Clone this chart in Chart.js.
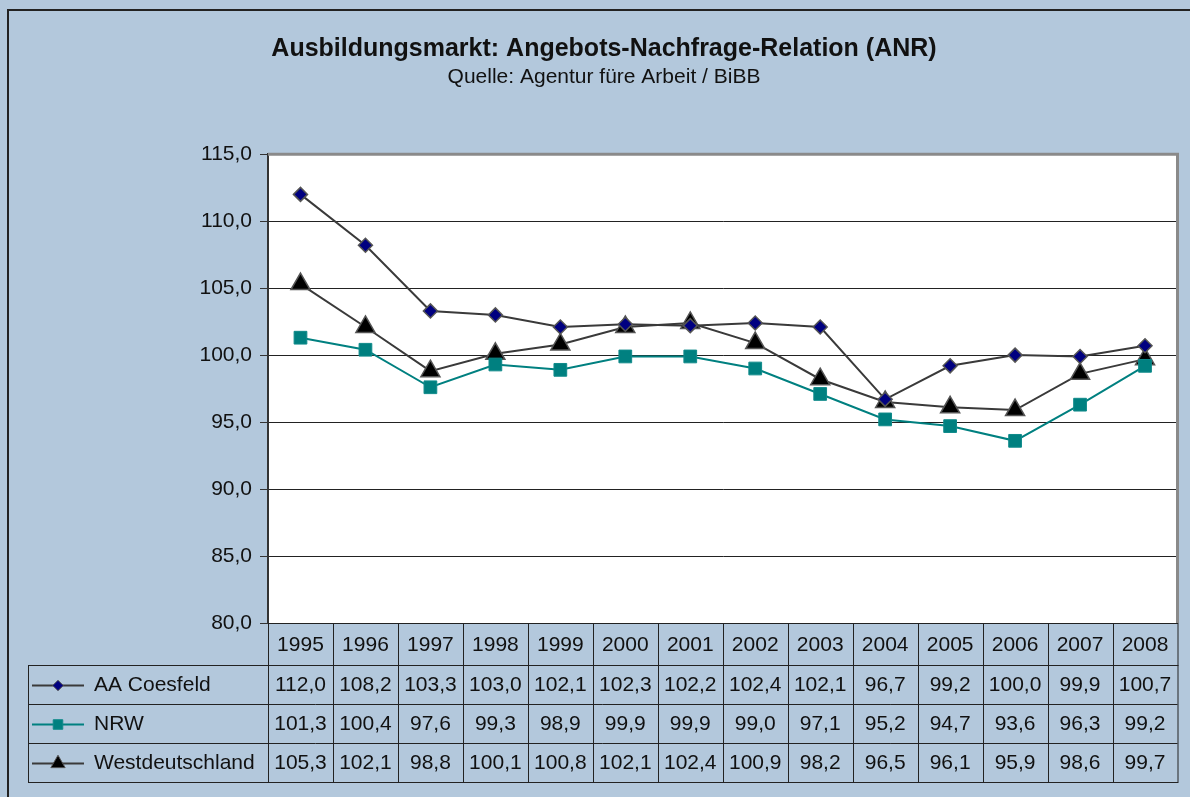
<!DOCTYPE html>
<html>
<head>
<meta charset="utf-8">
<script src="https://cdn.jsdelivr.net/npm/chart.js@4.4.1/dist/chart.umd.min.js"></script>
<style>
  html, body { margin: 0; padding: 0; background: #fff; }
  #wrap { width: 1190px; height: 797px; }
</style>
</head>
<body>
<div id="wrap"><canvas id="anrChart" width="1190" height="797"></canvas></div>
<script>
const years = ['1995', '1996', '1997', '1998', '1999', '2000', '2001', '2002', '2003', '2004', '2005', '2006', '2007', '2008'];
const coesfeld = [112.0, 108.2, 103.3, 103.0, 102.1, 102.3, 102.2, 102.4, 102.1, 96.7, 99.2, 100.0, 99.9, 100.7];
const nrw = [101.3, 100.4, 97.6, 99.3, 98.9, 99.9, 99.9, 99.0, 97.1, 95.2, 94.7, 93.6, 96.3, 99.2];
const west = [105.3, 102.1, 98.8, 100.1, 100.8, 102.1, 102.4, 100.9, 98.2, 96.5, 96.1, 95.9, 98.6, 99.7];
const yTicks = [80, 85, 90, 95, 100, 105, 110, 115];

const fmt = v => v.toFixed(1).replace('.', ',');
const FONT = '"Liberation Sans", Arial, sans-serif';

// background, outer frame and plot area fill
const frame = {
    id: 'frame',
    beforeDraw(chart) {
        const { ctx, chartArea: a } = chart;
        ctx.save();
        ctx.fillStyle = '#b3c8dc';
        ctx.fillRect(0, 0, chart.width, chart.height);
        ctx.strokeStyle = '#222';
        ctx.lineWidth = 2;
        ctx.strokeRect(8, 10, 1200, 800);
        ctx.fillStyle = '#fff';
        ctx.fillRect(a.left, a.top, a.right - a.left, a.bottom - a.top);
        ctx.restore();
    },
    afterDatasetsDraw(chart) {
        const { ctx, chartArea: a } = chart;
        ctx.save();
        ctx.strokeStyle = '#8a8a8a';
        ctx.lineWidth = 3;
        ctx.beginPath();
        ctx.moveTo(a.left, a.top);
        ctx.lineTo(a.right, a.top);
        ctx.lineTo(a.right, a.bottom);
        ctx.stroke();
        ctx.restore();
    }
};

// data table under the plot, columns follow the x scale
const dataTable = {
    id: 'dataTable',
    afterDraw(chart) {
        const { ctx, chartArea: a } = chart;
        const x = chart.scales.x;
        const half = (x.getPixelForValue(1) - x.getPixelForValue(0)) / 2;
        const top = a.bottom;
        const headH = 42, rowH = 39;
        const legLeft = 28;
        ctx.save();
        ctx.strokeStyle = '#222';
        ctx.lineWidth = 1;
        ctx.fillStyle = '#111';
        ctx.font = '21px ' + FONT;
        ctx.textAlign = 'center';
        ctx.textBaseline = 'middle';

        // header row
        ctx.strokeRect(a.left + 0.5, top + 0.5, a.right - a.left, headH);
        years.forEach((y, i) => {
            const cx = x.getPixelForValue(i);
            ctx.fillText(y, cx, top + headH / 2 + 1);
            if (i > 0) {
                ctx.beginPath();
                ctx.moveTo(Math.round(cx - half) + 0.5, top);
                ctx.lineTo(Math.round(cx - half) + 0.5, top + headH + rowH * 3);
                ctx.stroke();
            }
        });

        // body rows
        const bodyTop = top + headH;
        ctx.strokeRect(legLeft + 0.5, bodyTop + 0.5, a.right - legLeft, rowH * 3);
        ctx.beginPath();
        ctx.moveTo(a.left + 0.5, bodyTop);
        ctx.lineTo(a.left + 0.5, bodyTop + rowH * 3);
        for (let r = 1; r < 3; r++) {
            ctx.moveTo(legLeft, bodyTop + rowH * r + 0.5);
            ctx.lineTo(a.right, bodyTop + rowH * r + 0.5);
        }
        ctx.stroke();

        chart.data.datasets.forEach((ds, r) => {
            const cy = bodyTop + rowH * r + rowH / 2 + 1;
            ds.data.forEach((v, i) => {
                ctx.fillText(fmt(v), x.getPixelForValue(i), cy);
            });
            // legend key
            ctx.save();
            ctx.strokeStyle = ds.borderColor;
            ctx.lineWidth = 2;
            ctx.beginPath();
            ctx.moveTo(32, cy);
            ctx.lineTo(84, cy);
            ctx.stroke();
            ctx.fillStyle = ds.pointBackgroundColor;
            ctx.strokeStyle = ds.pointBorderColor;
            ctx.lineWidth = 1;
            Chart.helpers.drawPoint(ctx, {
                pointStyle: ds.pointStyle,
                radius: ds.pointRadius * 0.75,
                rotation: 0,
                borderWidth: 1
            }, 58, cy);
            ctx.restore();
            ctx.textAlign = 'left';
            ctx.fillText(ds.label, 94, cy);
            ctx.textAlign = 'center';
        });
        ctx.restore();
    }
};

new Chart(document.getElementById('anrChart'), {
    type: 'line',
    data: {
        labels: years,
        datasets: [{
            label: 'AA Coesfeld',
            data: coesfeld,
            borderColor: '#3a3a3a',
            borderWidth: 2,
            pointStyle: 'rectRot',
            pointRadius: 7,
            pointBackgroundColor: '#000080',
            pointBorderColor: '#555',
            pointBorderWidth: 1.5
        }, {
            label: 'NRW',
            data: nrw,
            borderColor: '#008080',
            borderWidth: 2,
            pointStyle: 'rect',
            pointRadius: 9,
            pointBackgroundColor: '#008080',
            pointBorderColor: '#0f8a8a',
            pointBorderWidth: 1
        }, {
            label: 'Westdeutschland',
            data: west,
            borderColor: '#3a3a3a',
            borderWidth: 2,
            pointStyle: 'triangle',
            pointRadius: 11,
            pointBackgroundColor: '#000',
            pointBorderColor: '#555',
            pointBorderWidth: 1.5
        }]
    },
    options: {
        responsive: false,
        animation: false,
        layout: { padding: { left: 28, right: 10, top: 0, bottom: 174 } },
        plugins: {
            legend: { display: false },
            tooltip: { enabled: false },
            title: {
                display: true,
                text: 'Ausbildungsmarkt: Angebots-Nachfrage-Relation (ANR)',
                color: '#111',
                font: { family: FONT, size: 25, weight: 'bold', lineHeight: 1.2 },
                padding: { top: 34, bottom: 1 }
            },
            subtitle: {
                display: true,
                text: 'Quelle: Agentur füre Arbeit / BiBB',
                color: '#111',
                font: { family: FONT, size: 21, lineHeight: 1.2 },
                padding: { top: 0, bottom: 64 }
            }
        },
        scales: {
            x: {
                display: false,
                offset: true
            },
            y: {
                min: 80,
                max: 115,
                afterFit: s => { s.width = 240; },
                afterBuildTicks: s => { s.ticks = yTicks.map(v => ({ value: v })); },
                border: { display: true, color: '#333', width: 2 },
                grid: { color: '#222', lineWidth: 1, drawTicks: true, tickLength: 8, tickColor: '#333' },
                ticks: {
                    color: '#111',
                    padding: 8,
                    font: { family: FONT, size: 21 },
                    callback: v => fmt(v)
                }
            }
        }
    },
    plugins: [frame, dataTable]
});
</script>
</body>
</html>
